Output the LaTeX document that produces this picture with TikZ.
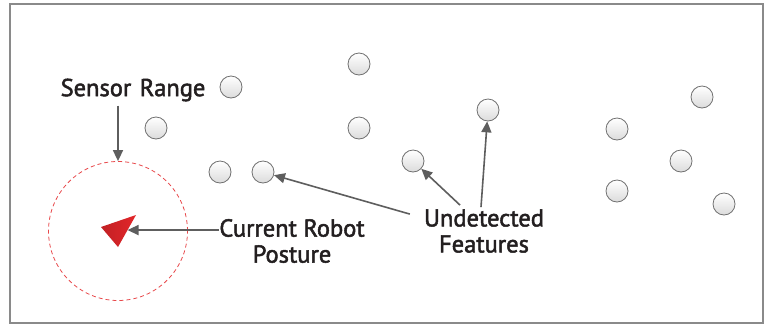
\documentclass[tikz,border=0pt]{standalone}
\usepackage{fontspec}
\setmainfont{PT Sans}
\newfontfamily\lblfont[FakeBold=2]{PT Sans}
\usetikzlibrary{arrows.meta,calc}
\definecolor{framegray}{HTML}{8A8A8A}
\definecolor{arrowgray}{HTML}{5E5E5E}
\definecolor{featedge}{HTML}{707070}
\definecolor{robotred}{HTML}{E3262A}
\definecolor{rangered}{HTML}{E8484A}
\definecolor{labeltext}{HTML}{231F20}
\tikzset{
  feature/.style={circle,draw=featedge,line width=0.8pt,minimum size=22pt,inner sep=0pt,
    top color=white,bottom color=black!14,shading angle=0},
  label/.style={font=\lblfont\fontsize{24.5}{26}\selectfont,text=labeltext,inner sep=0pt,align=center},
  pointer/.style={draw=arrowgray,line width=1.6pt,-{Triangle[length=11pt,width=10pt]}},
}
\begin{document}
\begin{tikzpicture}[x=1pt,y=-1pt]
\useasboundingbox (0,0) rectangle (765,325);
\fill[white] (0,0) rectangle (765,325);
\draw[framegray,line width=1.2pt] (10,4) rectangle (763,323);

% landmarks
\node[feature] (f1)  at (231,87)  {};
\node[feature] (f2)  at (359,64)  {};
\node[feature] (f3)  at (156,128) {};
\node[feature] (f4)  at (359,128) {};
\node[feature] (f5)  at (220,172) {};
\node[feature] (f6)  at (263,172) {};
\node[feature] (f7)  at (413,161) {};
\node[feature] (f8)  at (488,110) {};
\node[feature] (f9)  at (617,129) {};
\node[feature] (f10) at (702,97)  {};
\node[feature] (f11) at (681,161) {};
\node[feature] (f12) at (617,191) {};
\node[feature] (f13) at (724,204) {};

% sensor range around the robot
\node[circle,draw=rangered,dashed,dash pattern=on 4pt off 3pt,line width=0.8pt,
      minimum size=139pt,inner sep=0pt] (range) at (118,231) {};

% robot pose
\coordinate (t1) at (101,227);
\coordinate (t2) at (136,215);
\coordinate (t3) at (118,247);
\shade[left color=robotred!85!black,right color=robotred] (t1) -- (t2) -- (t3) -- cycle;
\coordinate (robot) at ($(t2)!0.47!(t3)$);

% labels
\node[label] (sr) at (133,90) {Sensor\hspace{0.35em}Range};
\node[label] (cr) at (292,241) {Current Robot\\Posture};
\node[label] (ud) at (484,231) {Undetected\\Features};

% pointers
\draw[pointer] (sr.south -| range.north) ++(0,4) -- (range.north);
\draw[pointer] (cr.west |- robot) -- (robot);
\draw[pointer] ($(ud.north west)+(-14,5)$) -- (f6);
\draw[pointer] ($(ud.north)+(-24,-4)$) -- (f7);
\draw[pointer] ($(ud.north)+(-3,-2)$) -- (f8);
\end{tikzpicture}
\end{document}
